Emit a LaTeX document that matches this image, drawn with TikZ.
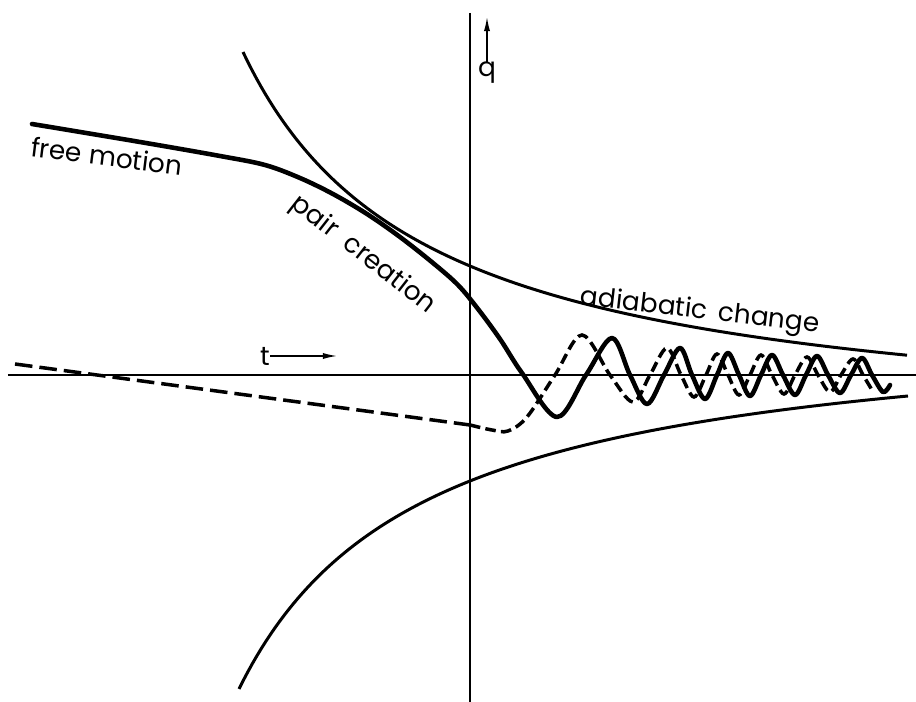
\documentclass[tikz,border=0pt]{standalone}
\usepackage{fontspec}
\setmainfont{Poppins}
\usetikzlibrary{arrows.meta}

\tikzset{
  axisline/.style={line width=0.85pt},
  envelope/.style={line width=1.7pt},
  orbit/.style={line width=2.6pt, line join=round, line cap=round},
  orbitdash/.style={line width=2pt, dash pattern=on 10pt off 4pt},
  wigglydash/.style={line width=2pt, dash pattern=on 6pt off 3pt},
  lbl/.style={font=\fontsize{15}{18}\selectfont, inner sep=0pt},
}

\begin{document}
\begin{tikzpicture}[x=0.02cm, y=0.02cm, >={Latex[length=8pt,width=3.5pt]}]

    \useasboundingbox (-470,-327) rectangle (446,375);

    % Axes
    \draw[axisline] (-462,0) -- (446,0);
    \draw[axisline] (0,362) -- (0,-327);

    % Envelopes
    \draw[envelope, domain=-227:437, samples=150]
        plot (\x, {710.1/((\x+410.5)/100)-64});
    \draw[envelope, domain=-231:438, samples=150]
        plot (\x, {59.5-686.45/((\x+414.8)/100)});

    % Solid orbit: free motion, pair creation, oscillation
    \draw[orbit] plot[smooth, tension=0.55] coordinates {
        (-438,251) (-330,233) (-250,219) (-205,210) (-170,197)
        (-137,181) (-103,161) (-70,138) (-37,112) (-12,90)
        (8,66) (30,36) (52,2) (87,-42) (116,0) (142,37) (160,0)
        (177,-29) (194,0) (210,27) (222,0) (235,-24) (247,0)
        (258,22) (269,0) (280,-21) (291,0) (302,20) (313,0)
        (325,-20) (336,0) (347,19) (358,0) (370,-18) (381,0)
        (392,17) (402,0) (413,-17) (420,-10)};

    % Dashed orbit
    \draw[orbitdash] (-455,11) -- (0,-50);
    \draw[wigglydash] plot[smooth, tension=0.55] coordinates {
        (0,-50) (22,-55) (38,-56) (57,-42) (85,0) (112,40)
        (140,0) (163,-27) (180,0) (197,27) (211,0) (224,-22)
        (236,0) (247,21) (258,0) (269,-20) (280,0) (291,20)
        (302,0) (314,-19) (325,0) (337,18) (348,0) (360,-17)
        (371,0) (383,16) (393,0) (402,-15)};

    % Labels
    \node[lbl, rotate=-7] (free) at (-363,219) {free motion};
    \node[lbl, rotate=-38] (pair) at (-107,120) {pair\hspace{0.25em} creation};
    \node[lbl, rotate=-6.5] (adiab) at (230,63) {adiabatic\hspace{0.15em} change};

    % t and q arrows
    \node[lbl] (tlab) at (-205,19) {t};
    \coordinate (tend) at (-133,19);
    \draw[->, line width=0.8pt] (tlab) -- (tend);

    \node[lbl] (qlab) at (17,302) {q};
    \coordinate (qtip) at (17,358);
    \draw[->, line width=0.8pt] (qlab) -- (qtip);

\end{tikzpicture}
\end{document}
